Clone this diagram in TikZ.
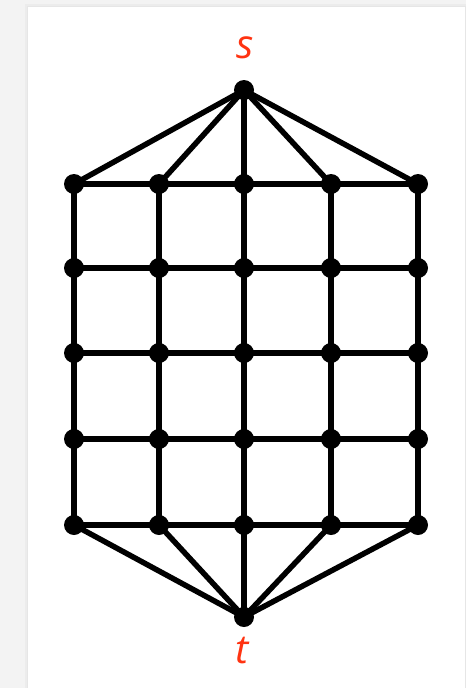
\documentclass[tikz,border=0pt]{standalone}
\usepackage{fontspec}
\setmainfont{Open Sans}
\definecolor{bggray}{HTML}{F3F3F3}
\definecolor{shade1}{HTML}{E6E6E6}
\definecolor{shade2}{HTML}{ECECEC}
\definecolor{lblred}{HTML}{FF3311}
\begin{document}
\begin{tikzpicture}[x=1pt,y=-1pt,
  vtx/.style={circle,inner sep=0pt,minimum size=20pt},
  edge/.style={line width=5.5pt,black},
  lbl/.style={text=lblred,font=\fontsize{40}{48}\selectfont\itshape,inner sep=0pt}]
\useasboundingbox (0,0) rectangle (466,688);
\fill[bggray] (0,0) rectangle (466,688);
\fill[shade2] (25,4) rectangle (466,688);
\fill[shade1] (27,6) rectangle (466,688);
\fill[white] (28,7) rectangle (465,688);
% grid vertices
\foreach \c/\x in {1/74,2/159,3/244,4/331,5/418}{
  \foreach \r/\y in {1/184,2/268,3/353,4/439,5/525}{
    \node[vtx] (v\r\c) at (\x,\y) {};
  }
}
\node[vtx] (s) at (244,90) {};
\node[vtx] (t) at (244,617) {};
\node[lbl] (ls) at (245,48) {s};
\node[lbl] (lt) at (242,651) {t};
\foreach \r in {1,...,5}{
  \draw[edge] (v\r1.center) -- (v\r2.center) -- (v\r3.center) -- (v\r4.center) -- (v\r5.center);
}
\foreach \c in {1,...,5}{
  \draw[edge] (v1\c.center) -- (v2\c.center) -- (v3\c.center) -- (v4\c.center) -- (v5\c.center);
}
\foreach \c in {1,...,5}{
  \draw[edge] (s.center) -- (v1\c.center);
  \draw[edge] (t.center) -- (v5\c.center);
}
\foreach \r in {1,...,5}{
  \foreach \c in {1,...,5}{
    \fill (v\r\c) circle (10pt);
  }
}
\fill (s) circle (10pt);
\fill (t) circle (10pt);
\end{tikzpicture}
\end{document}
